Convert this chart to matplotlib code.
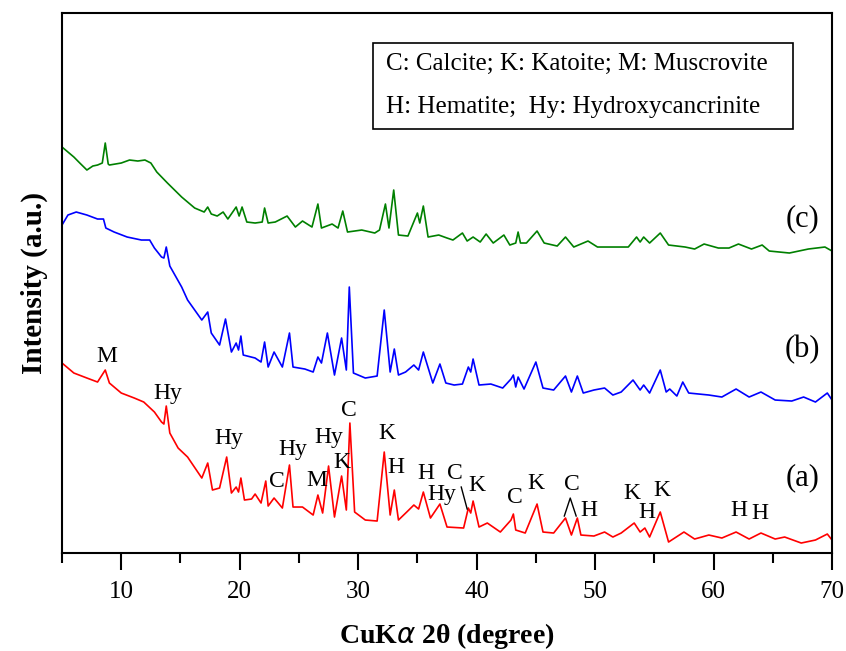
import matplotlib
matplotlib.use('Agg')
import matplotlib.pyplot as plt
from matplotlib.patches import Rectangle

plt.rcParams['font.family'] = ['Liberation Serif', 'DejaVu Serif']
plt.rcParams['mathtext.fontset'] = 'custom'

# sample (c) - green
c_x = [5.0, 5.5, 6.0, 6.5, 7.1, 7.6, 8.0, 8.4, 8.65, 8.9, 9.0, 10.0, 10.7, 11.4, 12.0, 12.5,
       13.0, 13.9, 15.1, 16.2, 17.0, 17.3, 17.6, 18.1, 18.6, 19.0, 19.7, 19.95, 20.2, 20.6,
       21.3, 21.9, 22.1, 22.4, 23.0, 24.0, 24.7, 25.3, 26.1, 26.6, 26.9, 27.8, 28.3, 28.7,
       29.1, 30.3, 31.4, 31.8, 32.3, 32.6, 33.0, 33.4, 34.2, 35.0, 35.2, 35.5, 35.9, 36.8,
       37.5, 38.0, 38.8, 39.2, 39.7, 40.3, 40.8, 41.4, 42.3, 42.8, 43.3, 43.5, 43.7, 44.2,
       45.1, 45.7, 46.8, 47.5, 48.2, 49.4, 50.2, 51.6, 52.8, 53.5, 53.8, 54.1, 54.6, 55.5,
       56.2, 57.6, 58.4, 59.2, 60.4, 61.3, 62.1, 63.2, 64.1, 64.7, 66.4, 68.0, 69.4, 70.0]
c_y = [406, 401, 396, 390, 383, 387, 388, 390, 410, 389, 388, 390, 393, 392, 393, 390,
       381, 370, 356, 345, 341, 346, 339, 337, 341, 334, 346, 337, 346, 331,
       330, 331, 345, 330, 331, 337, 326, 332, 326, 349, 325, 329, 325, 342,
       321, 323, 320, 323, 349, 325, 363, 318, 317, 340, 330, 347, 316, 318,
       315, 313, 320, 312, 316, 311, 319, 310, 318, 308, 310, 321, 310, 310,
       322, 310, 307, 316, 306, 312, 306, 306, 306, 316, 311, 316, 310, 320,
       308, 306, 304, 309, 305, 305, 309, 304, 308, 302, 300, 304, 306, 302]

# sample (b) - blue
b_x = [5.0, 5.5, 6.2, 7.1, 8.0, 8.5, 8.7, 9.4, 10.5, 11.7, 12.4, 12.8, 13.4, 13.6, 13.8,
       14.1, 15.1, 15.6, 16.2, 16.8, 17.3, 17.6, 18.3, 18.8, 19.3, 19.7, 19.9, 20.1, 20.3,
       21.3, 21.8, 22.1, 22.4, 22.9, 23.6, 24.2, 24.5, 25.5, 26.2, 26.6, 26.9, 27.4, 28.0,
       28.6, 29.0, 29.25, 29.6, 30.6, 31.6, 32.2, 32.7, 33.05, 33.4, 34.0, 34.7, 35.1, 35.5,
       36.3, 36.9, 37.4, 38.1, 38.8, 39.3, 39.5, 39.7, 40.2, 41.2, 42.2, 42.9, 43.1, 43.3,
       43.5, 44.0, 45.0, 45.6, 46.5, 47.5, 48.0, 48.5, 49.0, 49.9, 50.8, 51.5, 52.2, 53.2,
       53.8, 54.1, 54.6, 55.5, 56.0, 56.3, 56.9, 57.4, 57.9, 59.6, 60.7, 61.9, 63.0, 64.0,
       65.2, 66.6, 67.6, 68.6, 69.6, 70.0]
b_y = [328, 338, 341, 338, 334, 334, 325, 321, 316, 313, 313, 305, 296, 295, 306,
       287, 266, 253, 243, 233, 241, 220, 208, 234, 201, 210, 203, 217, 198,
       195, 191, 211, 186, 201, 186, 220, 186, 184, 181, 196, 190, 220, 178,
       215, 183, 266, 180, 175, 177, 243, 181, 204, 178, 181, 188, 183, 201,
       170, 189, 170, 168, 169, 186, 181, 194, 168, 169, 165, 174, 178, 166,
       176, 164, 191, 165, 163, 177, 161, 177, 160, 163, 165, 158, 161, 173,
       163, 168, 160, 183, 161, 164, 157, 171, 160, 158, 156, 164, 156, 161,
       153, 152, 156, 151, 160, 153]

# sample (a) - red
a_x = [5.0, 6.0, 7.1, 8.0, 8.65, 9.0, 10.0, 11.1, 11.9, 12.8, 13.4, 13.6, 13.8, 14.1, 14.8,
       15.6, 16.8, 17.3, 17.7, 18.3, 18.9, 19.3, 19.7, 19.9, 20.1, 20.4, 21.0, 21.3, 21.8,
       22.2, 22.4, 22.9, 23.6, 24.2, 24.5, 25.3, 26.2, 26.6, 27.0, 27.5, 28.0, 28.6, 29.0,
       29.3, 29.7, 30.6, 31.6, 32.2, 32.7, 33.05, 33.4, 34.1, 34.7, 35.1, 35.5, 36.1, 36.9,
       37.5, 38.9, 39.3, 39.5, 39.7, 40.2, 40.9, 42.0, 42.9, 43.1, 43.3, 44.1, 45.1, 45.6,
       46.5, 47.5, 48.0, 48.5, 48.8, 49.9, 50.8, 51.5, 52.2, 53.3, 53.8, 54.2, 54.6, 55.5,
       56.2, 57.5, 58.4, 59.6, 60.7, 61.9, 63.0, 64.0, 65.2, 66.0, 67.4, 68.6, 69.6, 70.0]
a_y = [190, 180, 175, 171, 183, 170, 160, 155, 151, 141, 131, 129, 147, 120, 105,
       96, 75, 90, 63, 65, 96, 60, 66, 61, 75, 53, 54, 59, 50,
       72, 47, 55, 45, 88, 46, 46, 38, 58, 40, 87, 36, 77, 43,
       130, 41, 33, 32, 101, 38, 63, 33, 41, 48, 44, 61, 35, 49,
       26, 25, 45, 40, 52, 26, 30, 21, 33, 39, 23, 20, 49, 21,
       20, 35, 18, 35, 18, 17, 21, 16, 20, 30, 21, 25, 16, 41,
       11, 21, 14, 18, 15, 21, 14, 20, 14, 16, 10, 13, 19, 13]

# phase labels on pattern (a)
peak_labels = ['M', 'Hy', 'Hy', 'C', 'Hy', 'Hy', 'M', 'K', 'C', 'K', 'H', 'H', 'Hy', 'C',
               'K', 'C', 'K', 'C', 'H', 'K', 'H', 'K', 'H', 'H']
peak_lx = [8.8, 13.95, 19.1, 23.1, 24.5, 27.5, 26.5, 28.6, 29.2, 32.4, 33.2, 35.7, 37.1, 38.2,
           40.0, 43.2, 45.0, 48.05, 49.5, 53.1, 54.4, 55.6, 62.1, 63.9]
peak_ly = [197, 160, 115, 72, 104, 116, 73, 91, 143, 120, 86, 80, 59, 80,
           68, 56, 70, 69, 43, 60, 41, 63, 43, 40]

sample_names = ['(c)', '(b)', '(a)']
sample_ly = [334, 203, 75]

fig = plt.figure(figsize=(8.46, 6.51), dpi=100)
ax = fig.add_axes([0.0733, 0.1505, 0.9102, 0.8295])

ax.plot(c_x, c_y, color='#008000', lw=1.2)
ax.plot(b_x, b_y, color='#0000ff', lw=1.2)
ax.plot(a_x, a_y, color='#ff0000', lw=1.2)

for lab, x, y in zip(peak_labels, peak_lx, peak_ly):
    ax.text(x, y, lab, ha='center', va='center', fontsize=17)

# little leader lines for the C labels
ax.plot([38.7, 39.2], [66, 44], color='k', lw=1)
ax.plot([47.4, 47.9, 48.4], [37, 55, 37], color='k', lw=1)

for nm, y in zip(sample_names, sample_ly):
    ax.text(67.5, y, nm, ha='center', va='center', fontsize=22)

# phase key box
ax.add_patch(Rectangle((0.404, 0.785), 0.545, 0.159, transform=ax.transAxes,
                       fill=False, ec='k', lw=1.2))
ax.text(0.421, 0.905, 'C: Calcite; K: Katoite; M: Muscrovite', transform=ax.transAxes,
        ha='left', va='center', fontsize=18)
ax.text(0.421, 0.826, 'H: Hematite;  Hy: Hydroxycancrinite', transform=ax.transAxes,
        ha='left', va='center', fontsize=18)

ax.set_xlim(5, 70)
ax.set_ylim(0, 540)
ax.set_xticks([10, 20, 30, 40, 50, 60, 70])
ax.set_xticks([5, 15, 25, 35, 45, 55, 65], minor=True)
ax.set_yticks([])
ax.tick_params(axis='x', which='major', direction='out', length=12, width=1.5,
               labelsize=18, pad=8)
ax.tick_params(axis='x', which='minor', direction='out', length=7, width=1.5)
for s in ax.spines.values():
    s.set_linewidth(1.5)

ax.set_xlabel('CuK$\\alpha$ 2\u03b8 (degree)', fontsize=20, fontweight='bold', labelpad=13)
ax.set_ylabel('Intensity (a.u.)', fontsize=21, fontweight='bold', labelpad=10)

fig.savefig('out.png', dpi=100)
